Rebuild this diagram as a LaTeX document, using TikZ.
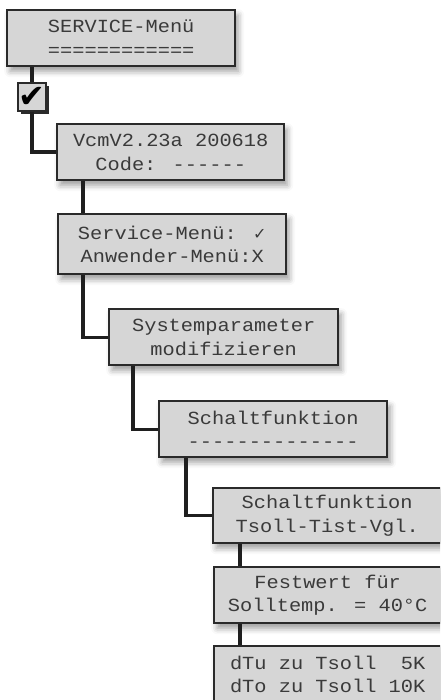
\documentclass[tikz,border=0pt]{standalone}
\usepackage{fontspec}
\usetikzlibrary{shadows,shadows.blur}
\newfontfamily\lcdfont[FakeStretch=1.1]{Liberation Mono}
\newfontfamily\symfont{DejaVu Sans}
\definecolor{panelfill}{HTML}{D6D6D6}
\definecolor{boxedge}{HTML}{2A2A2A}
\definecolor{lcdtext}{HTML}{3A3A3A}
\definecolor{linkcol}{HTML}{1F1F1F}
\begin{document}
\begin{tikzpicture}[x=1pt,y=-1pt,
  menubox/.style={draw=boxedge, line width=2.4pt, fill=panelfill, text=lcdtext,
    align=center, inner sep=0pt, anchor=north west,
    font=\lcdfont\fontsize{18.5}{23.5}\selectfont,
    blur shadow={shadow xshift=3pt, shadow yshift=-5pt, shadow blur radius=6pt, shadow opacity=40}},
  chkbox/.style={draw=boxedge, line width=1.6pt, fill=panelfill, inner sep=0pt,
    minimum size=28pt, font=\symfont\fontsize{32}{32}\selectfont,
    drop shadow={shadow xshift=3pt, shadow yshift=-3pt, fill=boxedge, opacity=1}},
  link/.style={draw=linkcol, line width=3.4pt}]
\useasboundingbox (0,0) rectangle (440,700);
\clip (0,0) rectangle (440,700);

% menu screens
\node[menubox, minimum width=228pt, minimum height=56pt] (b1) at (6,9)
  {SERVICE-Menü\\============};
\node[chkbox] (chk) at (32,97) {\raisebox{-1pt}{\makebox[20pt]{✔}}};
\node[menubox, minimum width=227pt, minimum height=56pt] (b2) at (56,123)
  {VcmV2.23a 200618\\Code: ------};
\node[menubox, minimum width=228pt, minimum height=60pt] (b3) at (57,213)
  {Service-Menü: {\symfont\fontsize{16}{16}\selectfont ✓}\\Anwender-Menü:X};
\node[menubox, minimum width=229pt, minimum height=56pt] (b4) at (108,308)
  {Systemparameter\\modifizieren};
\node[menubox, minimum width=228pt, minimum height=56pt] (b5) at (158,400)
  {Schaltfunktion\\--------------};
\node[menubox, minimum width=228pt, minimum height=55pt] (b6) at (212,487)
  {Schaltfunktion\\Tsoll-Tist-Vgl.};
\node[menubox, minimum width=227pt, minimum height=56pt] (b7) at (213,566)
  {Festwert für\\Solltemp. = 40°C};
\node[menubox, minimum width=227pt, minimum height=56pt] (b8) at (213,645)
  {dTu zu Tsoll \ 5K\\dTo zu Tsoll 10K};

% connectors between the screens
\draw[link] (chk.north) -- (chk.north |- b1.south);
\draw[link] (chk.south) |- (b2.west);
\draw[link] ([xshift=27pt]b2.south west) -- ([xshift=27pt]b2.south west |- b3.north);
\draw[link] ([xshift=26pt]b3.south west) |- (b4.west);
\draw[link] ([xshift=25pt]b4.south west) |- (b5.west);
\draw[link] ([xshift=28pt]b5.south west) |- (b6.west);
\draw[link] ([xshift=28pt]b6.south west) -- ([xshift=28pt]b6.south west |- b7.north);
\draw[link] ([xshift=27pt]b7.south west) -- ([xshift=27pt]b7.south west |- b8.north);
\end{tikzpicture}
\end{document}
